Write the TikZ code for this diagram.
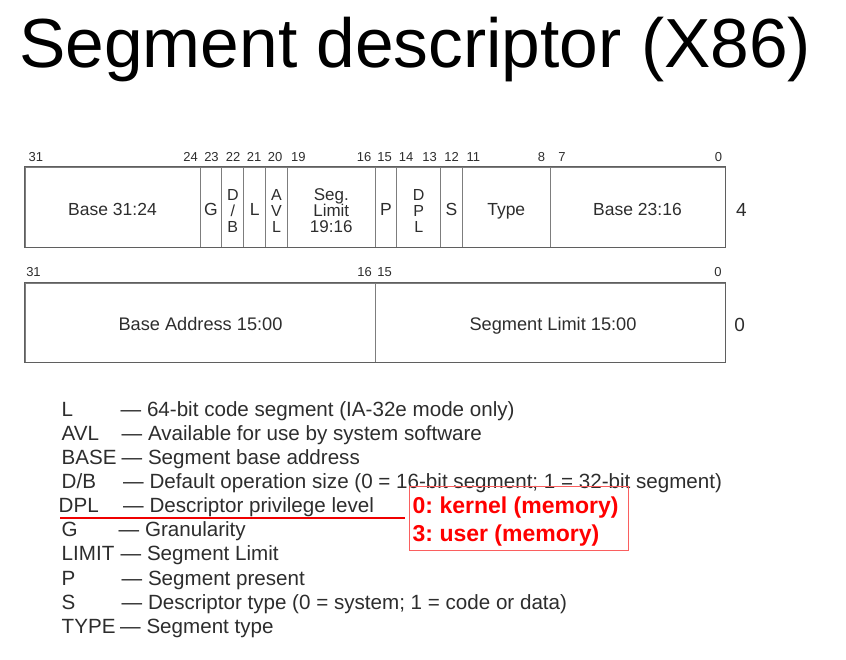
\documentclass[tikz,border=0pt]{standalone}
\usepackage{fontspec}
\setmainfont{Liberation Sans}
\frenchspacing
\definecolor{boxc}{RGB}{95,95,95}
\definecolor{divc}{RGB}{125,125,125}
\definecolor{txtc}{RGB}{45,45,45}
\definecolor{redt}{RGB}{255,0,0}
\definecolor{redb}{RGB}{250,95,95}
\definecolor{redl}{RGB}{240,0,0}
\tikzset{
  bitnum/.style={font=\fontsize{13}{13}\selectfont, text=txtc, anchor=base, inner sep=0pt},
  fieldtxt/.style={font=\fontsize{17.5}{15}\selectfont, text=txtc, anchor=base, inner sep=0pt},
  stacktxt/.style={font=\fontsize{16}{16}\selectfont, text=txtc, anchor=north, inner sep=0pt, align=center},
  segtxt/.style={font=\fontsize{17}{15.6}\selectfont, text=txtc, anchor=north, inner sep=0pt, align=center},
  cell/.style={draw=divc, line width=1pt, inner sep=0pt, anchor=center},
  outer/.style={draw=boxc, line width=1.4pt},
  rowtxt/.style={font=\fontsize{18.2}{18}\selectfont, text=txtc, anchor=base, inner sep=0pt},
  sidenum/.style={font=\fontsize{19}{19}\selectfont, text=txtc, anchor=base, inner sep=0pt},
  legkey/.style={font=\fontsize{20.6}{22}\selectfont, text=txtc, anchor=base west, inner sep=0pt},
  redtxt/.style={font=\bfseries\fontsize{23}{23}\selectfont, text=redt, anchor=base west, inner sep=0pt},
  redline/.style={color=redl, line width=1.6pt},
}
\begin{document}
\begin{tikzpicture}[x=1pt,y=-1pt]
\useasboundingbox (0,0) rectangle (846,659);
% title
\node[font=\fontsize{69.5}{70}\selectfont, anchor=base west, inner sep=0pt] (title) at (19,67) {Segment descriptor (X86)};

% ---------- top row (offset 4) ----------
\node[cell, minimum width=175pt,    minimum height=80pt] (fbase3124) at (112.5,207) {};
\node[cell, minimum width=21.875pt, minimum height=80pt] (fg)   at (210.94,207) {};
\node[cell, minimum width=21.875pt, minimum height=80pt] (fdb)  at (232.81,207) {};
\node[cell, minimum width=21.875pt, minimum height=80pt] (fl)   at (254.69,207) {};
\node[cell, minimum width=21.875pt, minimum height=80pt] (favl) at (276.56,207) {};
\node[cell, minimum width=87.5pt,   minimum height=80pt] (fseg) at (331.25,207) {};
\node[cell, minimum width=21.875pt, minimum height=80pt] (fp)   at (385.94,207) {};
\node[cell, minimum width=43.75pt,  minimum height=80pt] (fdpl) at (418.75,207) {};
\node[cell, minimum width=21.875pt, minimum height=80pt] (fs)   at (451.56,207) {};
\node[cell, minimum width=87.5pt,   minimum height=80pt] (ftype) at (506.25,207) {};
\node[cell, minimum width=175pt,    minimum height=80pt] (fbase2316) at (637.5,207) {};
\draw[outer] (fbase3124.north west) rectangle (fbase2316.south east);

\node[fieldtxt] (tbase3124) at (112.5,215) {Base 31:24};
\node[fieldtxt] (tg) at (210.94,215) {G};
\node[stacktxt] (tdb) at (232.81,189.5) {D\\/\\B};
\node[fieldtxt] (tl) at (254.69,215) {L};
\node[stacktxt] (tavl) at (276.56,189.5) {A\\V\\L};
\node[segtxt] (tseg) at (331.25,188) {Seg.\\Limit\\19:16};
\node[fieldtxt] (tp) at (385.94,215) {P};
\node[stacktxt] (tdpl) at (418.75,189.5) {D\\P\\L};
\node[fieldtxt] (ts) at (451.56,215) {S};
\node[fieldtxt] (ttype) at (506.25,215) {Type};
\node[fieldtxt] (tbase2316) at (637.5,215) {Base 23:16};
\node[sidenum] (side4) at (741.5,216.5) {4};

% bit numbers top
\node[bitnum] (b31) at (35.9,161) {31};
\node[bitnum] (b24) at (190.5,161) {24};
\node[bitnum] (b23) at (211.5,161) {23};
\node[bitnum] (b22) at (233.0,161) {22};
\node[bitnum] (b21) at (254.2,161) {21};
\node[bitnum] (b20) at (275.0,161) {20};
\node[bitnum] (b19) at (298.4,161) {19};
\node[bitnum] (b16) at (364.1,161) {16};
\node[bitnum] (b15) at (384.5,161) {15};
\node[bitnum] (b14) at (406.0,161) {14};
\node[bitnum] (b13) at (429.7,161) {13};
\node[bitnum] (b12) at (451.6,161) {12};
\node[bitnum] (b11) at (473.4,161) {11};
\node[bitnum] (b8)  at (541.5,161) {8};
\node[bitnum] (b7)  at (562.0,161) {7};
\node[bitnum] (b0)  at (718.5,161) {0};

% ---------- second row (offset 0) ----------
\node[cell, minimum width=350pt, minimum height=79pt] (fbaseaddr) at (200,322.5) {};
\node[cell, minimum width=350pt, minimum height=79pt] (fseglim) at (550,322.5) {};
\draw[outer] (fbaseaddr.north west) rectangle (fseglim.south east);
\node[rowtxt] (tbaseaddr) at (200.5,330) {Base Address 15:00};
\node[rowtxt] (tseglim) at (553,330) {Segment Limit 15:00};
\node[sidenum] (side0) at (739.6,331.7) {0};
\node[bitnum] (c31) at (33.5,276.7) {31};
\node[bitnum] (c16) at (364.7,276.7) {16};
\node[bitnum] (c15) at (384.7,276.7) {15};
\node[bitnum] (c0)  at (718,276.7) {0};

% ---------- legend ----------
\node[legkey] (kL)     at (61.5,416)   {L};
\node[legkey] (dL)     at (120.5,416)  {— 64-bit code segment (IA-32e mode only)};
\node[legkey] (kAVL)   at (61.5,440.2) {AVL};
\node[legkey] (dAVL)   at (121.5,440.2){— Available for use by system software};
\node[legkey] (kBASE)  at (61.5,464.3) {BASE};
\node[legkey] (dBASE)  at (121.5,464.3){— Segment base address};
\node[legkey] (kDB)    at (61.5,488.5) {D/B};
\node[legkey] (dDB)    at (123,488.5)  {— Default operation size (0 = 16-bit segment; 1 = 32-bit segment)};
\node[legkey] (kDPL)   at (58.5,512.6) {DPL};
\node[legkey] (dDPL)   at (123,512.6)  {— Descriptor privilege level};
\node[legkey] (kG)     at (61.5,536.8) {G};
\node[legkey] (dG)     at (118.5,536.8){— Granularity};
\node[legkey] (kLIMIT) at (61.5,560.9) {LIMIT};
\node[legkey] (dLIMIT) at (120.5,560.9){— Segment Limit};
\node[legkey] (kP)     at (61.5,585)   {P};
\node[legkey] (dP)     at (121.5,585)  {— Segment present};
\node[legkey] (kS)     at (61.5,609.2) {S};
\node[legkey] (dS)     at (121.5,609.2){— Descriptor type (0 = system; 1 = code or data)};
\node[legkey] (kTYPE)  at (61.5,633.3) {TYPE};
\node[legkey] (dTYPE)  at (120,633.3)  {— Segment type};

% ---------- red annotation ----------
\node[draw=redb, line width=1.2pt, minimum width=219pt, minimum height=64pt, inner sep=0pt] (kbox) at (518.8,518.7) {};
\node[redtxt] (rk) at (412.5,513) {0: kernel (memory)};
\node[redtxt] (ru) at (412.5,541) {3: user (memory)};
\coordinate (ulstart) at (60,518);
\coordinate (ulend) at (405,518);
\draw[redline] (ulstart) -- (ulend);
\end{tikzpicture}
\end{document}
